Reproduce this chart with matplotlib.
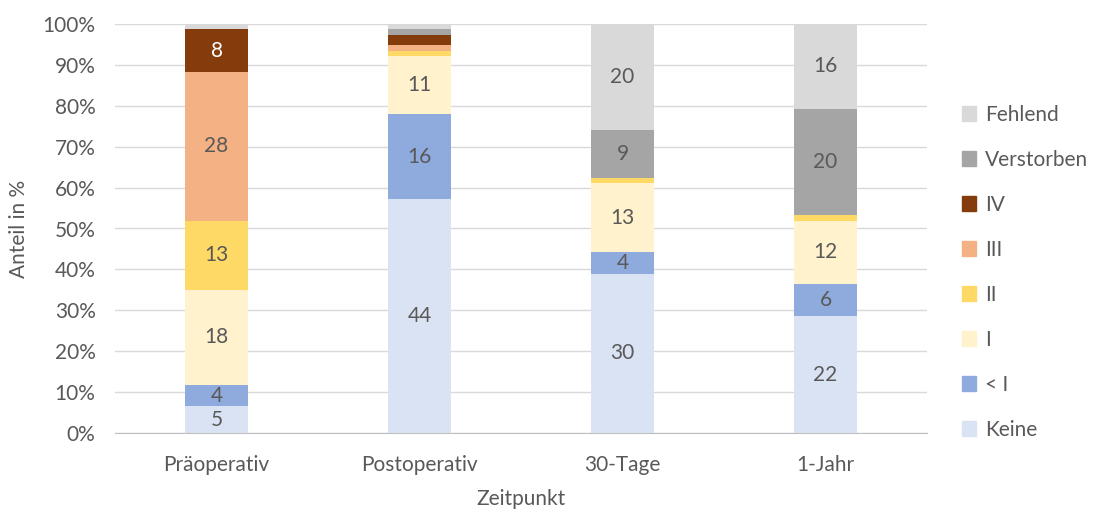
import matplotlib.pyplot as plt
import numpy as np
from matplotlib.patches import Patch
from matplotlib.ticker import PercentFormatter

plt.rcParams['font.family'] = ['Lato', 'DejaVu Sans']

zeitpunkte = ['Präoperativ', 'Postoperativ', '30-Tage', '1-Jahr']
kategorien = ['Keine', '< I', 'I', 'II', 'III', 'IV', 'Verstorben', 'Fehlend']

keine = [5, 44, 30, 22]
kleiner_i = [4, 16, 4, 6]
grad_i = [18, 11, 13, 12]
grad_ii = [13, 1, 1, 1]
grad_iii = [28, 1, 0, 0]
grad_iv = [8, 2, 0, 0]
verstorben = [0, 1, 9, 20]
fehlend = [1, 1, 20, 16]

werte = [keine, kleiner_i, grad_i, grad_ii, grad_iii, grad_iv, verstorben, fehlend]
farben = ['#DAE3F3', '#8FAADC', '#FFF2CC', '#FFD966', '#F4B183', '#843C0C',
          '#A5A5A5', '#D9D9D9']
textfarbe = '#595959'
fs = 15

fig = plt.figure(figsize=(10.96, 5.11), dpi=100)
ax = fig.add_axes([115 / 1096, 1 - 433 / 511, 812 / 1096, 409 / 511])

x = np.arange(len(zeitpunkte))
summe = np.sum(werte, axis=0)
unten = np.zeros(len(zeitpunkte))
for name, serie, farbe in zip(kategorien, werte, farben):
    anteil = np.array(serie) / summe * 100
    ax.bar(x, anteil, 0.315, bottom=unten, color=farbe, label=name, zorder=2)
    # nur Segmente ab 4 Patienten beschriften
    for i, n in enumerate(serie):
        if n >= 4:
            c = 'white' if name == 'IV' else textfarbe
            ax.text(x[i], unten[i] + anteil[i] / 2, str(n), ha='center',
                    va='center', fontsize=fs, color=c, zorder=3)
    unten += anteil

ax.set_xlim(-0.5, len(zeitpunkte) - 0.5)
ax.set_ylim(0, 100)
ax.set_yticks(np.arange(0, 101, 10))
ax.yaxis.set_major_formatter(PercentFormatter(decimals=0))
ax.set_xticks(x)
ax.set_xticklabels(zeitpunkte)
ax.grid(axis='y', color='#D9D9D9', linewidth=1, zorder=0)
for s in ['top', 'right', 'left']:
    ax.spines[s].set_visible(False)
ax.spines['bottom'].set_color('#BFBFBF')
ax.tick_params(axis='both', length=0, labelsize=fs, labelcolor=textfarbe)
ax.tick_params(axis='x', pad=16)
ax.tick_params(axis='y', pad=14)
ax.set_xlabel('Zeitpunkt', fontsize=fs, color=textfarbe, labelpad=10)
ax.set_ylabel('Anteil in %', fontsize=fs, color=textfarbe, labelpad=10)

handles = [Patch(color=f, label=k) for k, f in zip(kategorien, farben)][::-1]
leg = fig.legend(handles=handles, loc='center left',
                 bbox_to_anchor=(943 / 1096, 1 - 272 / 511), frameon=False,
                 fontsize=fs, labelspacing=1.2, handlelength=0.7,
                 handleheight=0.7, handletextpad=0.4)
for t in leg.get_texts():
    t.set_color(textfarbe)

fig.savefig('out.png', dpi=100)
